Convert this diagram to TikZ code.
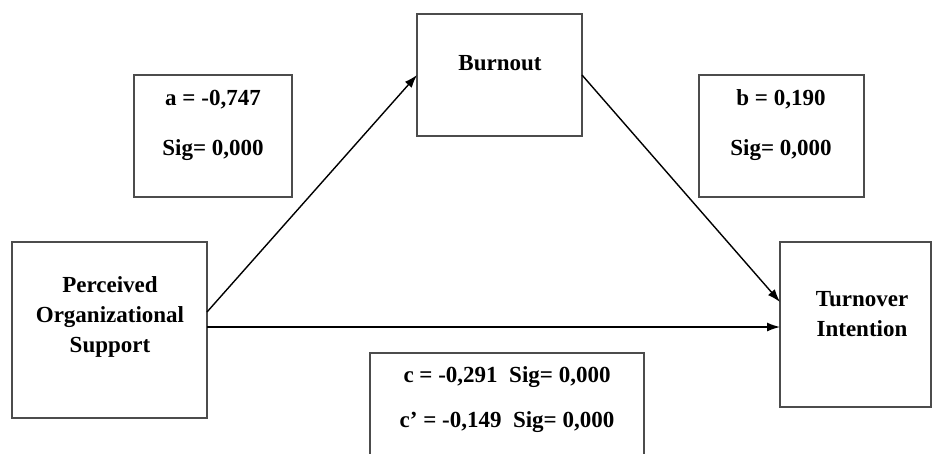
\documentclass[tikz,border=0pt]{standalone}
\usepackage{fontspec}
\setmainfont{Liberation Serif}
\usetikzlibrary{arrows.meta,calc}
\begin{document}
\begin{tikzpicture}[x=1pt,y=-1pt,
  box/.style={draw=black!70,line width=1.6pt,fill=none,inner sep=0pt,outer sep=0pt},
  txt/.style={font=\fontsize{23}{30}\selectfont\bfseries,align=center,inner sep=0pt},
  arr/.style={draw=black,line width=1.4pt,-{Latex[length=13pt,width=9pt]}}]
\useasboundingbox (0,0) rectangle (933,453);
\clip (0,0) rectangle (933,453);
\fill[white] (0,0) rectangle (933,453);
% main boxes
\node[box,minimum width=195pt,minimum height=176pt] (pos) at (109.5,330) {};
\node[box,minimum width=165pt,minimum height=122pt] (burn) at (499.5,75) {};
\node[box,minimum width=151pt,minimum height=165pt] (turn) at (855.5,324.5) {};
% stat boxes
\node[box,minimum width=158pt,minimum height=122pt] (abox) at (213,136) {};
\node[box,minimum width=165pt,minimum height=122pt] (bbox) at (781.5,136) {};
\node[box,minimum width=274pt,minimum height=130pt] (cbox) at (507,418) {};
% texts
\node[txt] (post) at (110,317) {Perceived\\Organizational\\Support};
\node[txt] (burnt) at (500,63) {Burnout};
\node[txt] (turnt) at (862,314) {Turnover\\Intention};
\node[txt] (a1) at (213,100) {a = -0,747};
\node[txt] (a2) at (213,150) {Sig= 0,000};
\node[txt] (b1) at (781,99) {b = 0,190};
\node[txt] (b2) at (781,150) {Sig= 0,000};
\node[txt] (c1) at (507,377) {c = -0,291\ \ Sig= 0,000};
\node[txt] (c2) at (507,422) {c' = -0,149\ \ Sig= 0,000};
% arrows
\draw[arr] ($(pos.east)+(0,-18)$) -- (burn.west);
\draw[arr] (burn.east) -- ($(turn.west)+(0,-22.5)$);
\draw[arr] ($(pos.east)+(0,-3)$) -- ($(turn.west)+(0,2.5)$);
\end{tikzpicture}
\end{document}
